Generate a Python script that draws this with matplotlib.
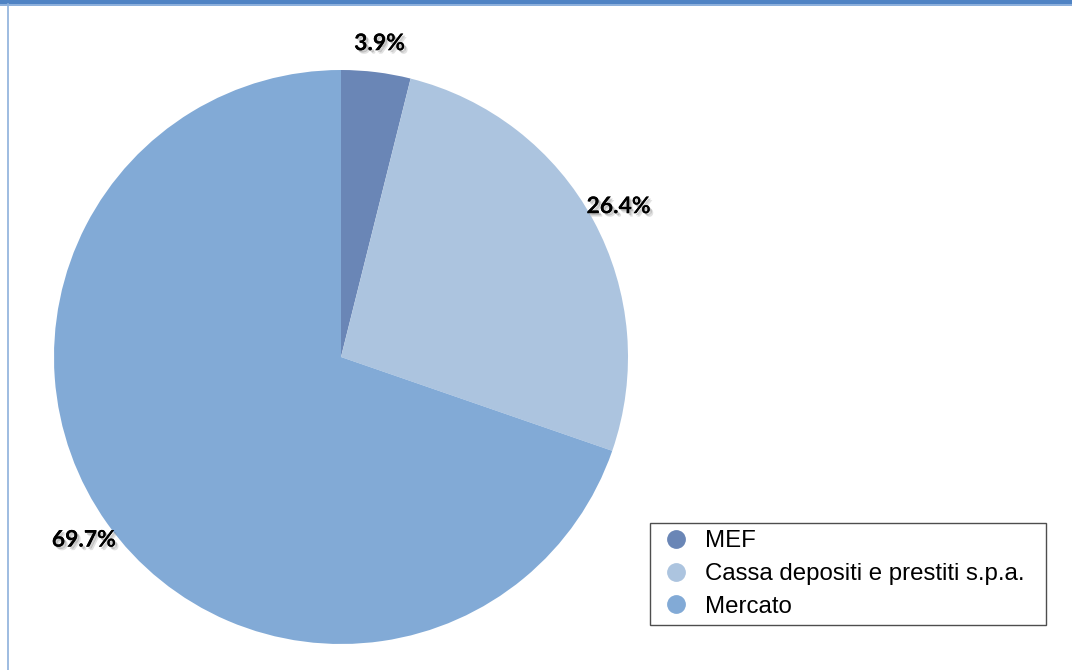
import matplotlib.pyplot as plt
import matplotlib.patheffects as pe
from matplotlib.lines import Line2D
from matplotlib.patches import Rectangle

labels = ['MEF', 'Cassa depositi e prestiti s.p.a.', 'Mercato']
shares = [3.9, 26.4, 69.7]
colors = ['#6a86b6', '#acc4df', '#82aad6']

W, H = 1072, 670
fig = plt.figure(figsize=(W / 100, H / 100), dpi=100)

# pie sits in a square box: centre (341, 357) px, radius 287 px
cx, cy, r = 341, 357, 287
ax = fig.add_axes([(cx - r) / W, (H - cy - r) / H, 2 * r / W, 2 * r / H])

# soft drop shadow under the percentage labels
shadow = [
    pe.withSimplePatchShadow(offset=(2.5, -2.5), shadow_rgbFace='#888888', alpha=0.25),
    pe.withSimplePatchShadow(offset=(1.5, -1.5), shadow_rgbFace='#777777', alpha=0.35),
]

wedges, texts, autotexts = ax.pie(
    shares,
    colors=colors,
    startangle=90,
    counterclock=False,
    autopct='%.1f%%',
    pctdistance=1.1,
    wedgeprops={'linewidth': 0},
    textprops={'fontsize': 16.5, 'fontweight': 'bold', 'family': 'Lato', 'color': 'black'},
)
for t in autotexts:
    t.set_path_effects(shadow)
ax.set_xlim(-1, 1)
ax.set_ylim(-1, 1)

handles = [Line2D([], [], marker='o', linestyle='none', markersize=12.5,
                  markerfacecolor=c, markeredgecolor=c) for c in colors]
leg = fig.legend(handles, labels, loc='upper left', mode='expand',
                 bbox_to_anchor=(650 / W, 1 - 622 / H, 396 / W, 99 / H), borderaxespad=0,
                 prop={'family': 'Liberation Sans', 'size': 17.3},
                 frameon=True, fancybox=False, edgecolor='#222222',
                 handletextpad=0.4, labelspacing=0.45, borderpad=0.3,
                 handlelength=1.6)
leg.get_frame().set_linewidth(1.0)

# blue header band and left rule
fig.add_artist(Rectangle((0, 1 - 4 / H), 1, 4 / H, transform=fig.transFigure,
                         facecolor='#4f83c4', edgecolor='none'))
fig.add_artist(Rectangle((0, 1 - 5.5 / H), 1, 1.5 / H, transform=fig.transFigure,
                         facecolor='#8db0dc', edgecolor='none'))
fig.add_artist(Line2D([7.5 / W, 7.5 / W], [0, 1 - 4 / H], transform=fig.transFigure,
                      color='#8db0dc', linewidth=1.2))

fig.savefig('out.png', dpi=100)
